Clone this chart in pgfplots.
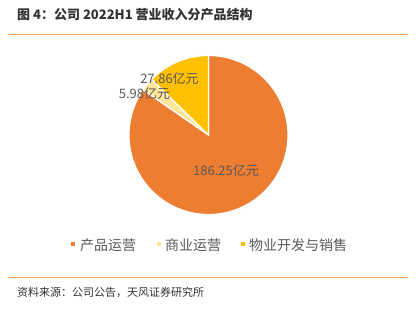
\documentclass[border=0pt]{standalone}
\usepackage{pgfplots}
\pgfplotsset{compat=1.18}
\usepackage{pgfplotstable}
\usepackage{fontspec}
\setmainfont{Noto Sans CJK SC}
\definecolor{cA}{HTML}{ED7D31}
\definecolor{cB}{HTML}{FFE699}
\definecolor{cC}{HTML}{FFC000}
\definecolor{lineor}{HTML}{F5A35E}
\definecolor{txt}{HTML}{595959}
\definecolor{ttl}{HTML}{333333}
\pgfplotstableread{
label value
A 186.25
B 5.98
C 27.86
}\piedata
\begin{document}
\begin{tikzpicture}
\path[use as bounding box] (0,0) rectangle (417bp,-309bp);
% title and rules
\node[anchor=west, text=ttl, font=\bfseries\fontsize{13bp}{15bp}\selectfont, inner sep=0pt] at (17bp,-14.5bp) {图 4：公司 2022H1 营业收入分产品结构};
\draw[lineor, line width=1bp] (8bp,-34bp) -- (408bp,-34bp);
\draw[lineor, line width=1bp] (8bp,-277.5bp) -- (408bp,-277.5bp);
\node[anchor=west, text=ttl, font=\fontsize{11bp}{13bp}\selectfont, inner sep=0pt] at (17bp,-292bp) {资料来源：公司公告，天风证券研究所};
% pie angles
\pgfplotstablegetelem{0}{value}\of\piedata\pgfmathsetmacro\va{\pgfplotsretval}
\pgfplotstablegetelem{1}{value}\of\piedata\pgfmathsetmacro\vb{\pgfplotsretval}
\pgfplotstablegetelem{2}{value}\of\piedata\pgfmathsetmacro\vc{\pgfplotsretval}
\pgfmathsetmacro\T{\va+\vb+\vc}
\pgfmathsetmacro\aA{90-360*(\va/\T)}
\pgfmathsetmacro\aB{\aA-360*(\vb/\T)}
\pgfmathsetmacro\aC{\aB-360*(\vc/\T)}
\begin{axis}[at={(208.5bp,-135bp)}, anchor=center, hide axis, scale only axis,
  x=79.5bp, y=79.5bp, xmin=-1, xmax=1, ymin=-1, ymax=1, clip=false]
\fill[fill=cA, draw=white, line width=1.2bp] (axis cs:0,0) -- (axis cs:0,1) arc[start angle=90, end angle=\aA, radius=79.5bp] -- cycle;
\fill[fill=cB, draw=white, line width=1.2bp] (axis cs:0,0) -- (axis cs:{cos(\aA)},{sin(\aA)}) arc[start angle=\aA, end angle=\aB, radius=79.5bp] -- cycle;
\fill[fill=cC, draw=white, line width=1.2bp] (axis cs:0,0) -- (axis cs:{cos(\aB)},{sin(\aB)}) arc[start angle=\aB, end angle=\aC, radius=79.5bp] -- cycle;
\end{axis}
% data labels
\begin{scope}[every node/.style={text=txt, font=\fontsize{13bp}{15bp}\selectfont, inner sep=0pt}]
\node at (169.5bp,-79bp) {27.86亿元};
\node at (144.5bp,-94bp) {5.98亿元};
\node at (226bp,-171bp) {186.25亿元};
\end{scope}
% legend
\begin{scope}[every node/.style={anchor=west, text=txt, font=\fontsize{14bp}{16bp}\selectfont, inner sep=0pt}]
\fill[cA] (71bp,-241.5bp) rectangle (75bp,-245.5bp);
\node at (80bp,-245bp) {产品运营};
\fill[cB] (157bp,-241.5bp) rectangle (161bp,-245.5bp);
\node at (165bp,-245bp) {商业运营};
\fill[cC] (241bp,-241.5bp) rectangle (245bp,-245.5bp);
\node at (249bp,-245bp) {物业开发与销售};
\end{scope}
\end{tikzpicture}
\end{document}
